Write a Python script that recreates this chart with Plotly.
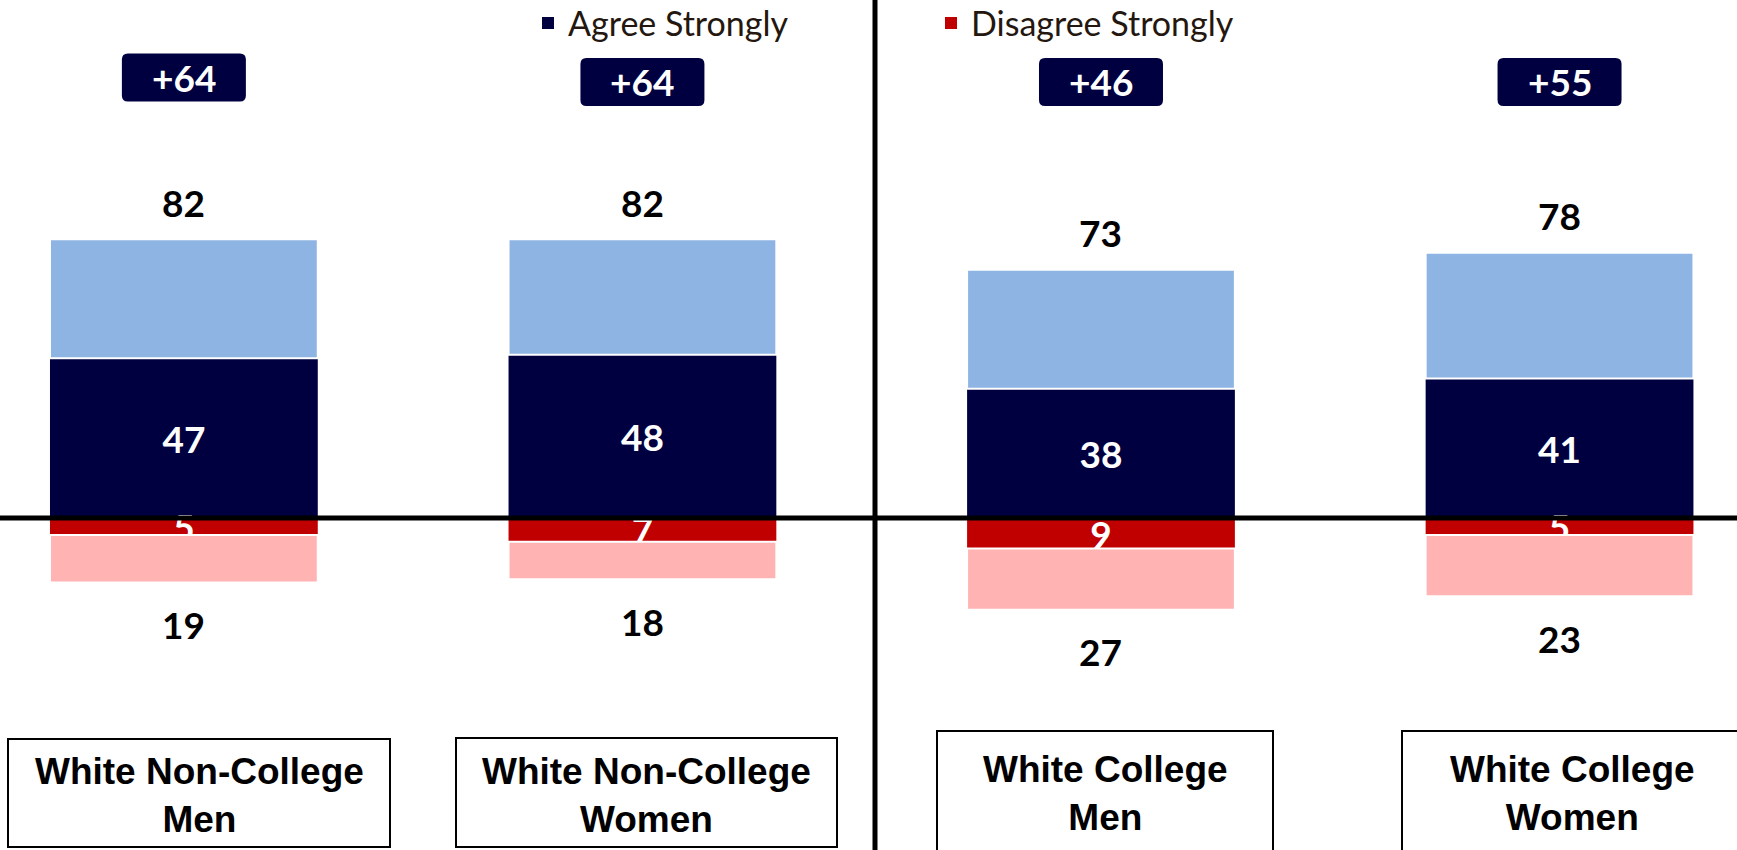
import plotly.graph_objects as go

# Survey results by group (percent)
categories = ["White Non-College Men", "White Non-College Women",
              "White College Men", "White College Women"]
agree_total = [82, 82, 73, 78]
agree_strong = [47, 48, 38, 41]
disagree_total = [19, 18, 27, 23]
disagree_strong = [5, 7, 9, 5]
net_agree = [64, 64, 46, 55]

W, H = 1737, 850
NAVY = "#000040"
LIGHT_BLUE = "#8eb4e3"
RED = "#c00000"
PINK = "#ffb3b3"
NUM_FONT = "Lato"
LABEL_FONT = "Liberation Sans, Arial, sans-serif"
BAR_W = 0.584


def px_x(p):
    return p / W


def px_y(p):
    return 1 - p / H


fig = go.Figure()

# Agree side: strong segment from zero, remainder stacked on top up to the total
fig.add_bar(x=categories, y=agree_strong, name="Agree Strongly", legend="legend",
            marker=dict(color=NAVY, line=dict(width=0)),
            width=BAR_W, text=[str(v) for v in agree_strong], textposition="inside",
            insidetextanchor="middle", constraintext="none", textangle=0,
            textfont=dict(family=NUM_FONT, size=37, color="white", weight="bold"),
            hoverinfo="skip")
fig.add_bar(x=categories, base=agree_strong,
            y=[t - s for t, s in zip(agree_total, agree_strong)],
            marker=dict(color=LIGHT_BLUE, line=dict(color="white", width=2)),
            width=BAR_W, showlegend=False, hoverinfo="skip")

# Disagree side, drawn below zero
fig.add_bar(x=categories, y=[-v for v in disagree_strong], name="Disagree Strongly", legend="legend2",
            marker=dict(color=RED, line=dict(width=0)),
            width=BAR_W, text=[str(v) for v in disagree_strong], textposition="inside",
            insidetextanchor="middle", constraintext="none", textangle=0,
            textfont=dict(family=NUM_FONT, size=37, color="white", weight="bold"),
            hoverinfo="skip")
fig.add_bar(x=categories, base=[-v for v in disagree_strong],
            y=[-(t - s) for t, s in zip(disagree_total, disagree_strong)],
            marker=dict(color=PINK, line=dict(color="white", width=2)),
            width=BAR_W, showlegend=False, hoverinfo="skip")

annotations = []
shapes = []

# Totals above / below the bars
for cat, v in zip(categories, agree_total):
    annotations.append(dict(x=cat, y=v, xref="x", yref="y", text=str(v), showarrow=False,
                            yanchor="middle", yshift=37,
                            font=dict(family=NUM_FONT, size=37, color="black", weight="bold")))
for cat, v in zip(categories, disagree_total):
    annotations.append(dict(x=cat, y=-v, xref="x", yref="y", text=str(v), showarrow=False,
                            yanchor="middle", yshift=-42,
                            font=dict(family=NUM_FONT, size=37, color="black", weight="bold")))

# Net agree badges (rounded rectangles)
bw, bh, r = 124, 48, 6
hw, hh = bw / 2, bh / 2
badge_path = (f"M {-hw + r},{-hh} L {hw - r},{-hh} Q {hw},{-hh} {hw},{-hh + r} "
              f"L {hw},{hh - r} Q {hw},{hh} {hw - r},{hh} L {-hw + r},{hh} "
              f"Q {-hw},{hh} {-hw},{hh - r} L {-hw},{-hh + r} Q {-hw},{-hh} {-hw + r},{-hh} Z")
badge_y_px = [77.5, 82, 82, 82]
for i, (v, by) in enumerate(zip(net_agree, badge_y_px)):
    shapes.append(dict(type="path", xref="x", yref="paper", xsizemode="pixel", ysizemode="pixel",
                       xanchor=i, yanchor=px_y(by), path=badge_path,
                       fillcolor=NAVY, line=dict(width=0), layer="above"))
    annotations.append(dict(x=i, y=px_y(by), xref="x", yref="paper", text=f"+{v}",
                            showarrow=False, yanchor="middle", xanchor="center",
                            font=dict(family=NUM_FONT, size=37, color="white", weight="bold")))

# Group label boxes along the bottom
label_boxes = [(8, 739, 390, 847), (456, 738, 837, 847), (937, 731, 1273, 853), (1402, 731, 1742, 853)]
label_y_px = [795, 795, 793, 793]
for cat, (x0, y0, x1, y1), ly in zip(categories, label_boxes, label_y_px):
    shapes.append(dict(type="rect", xref="paper", yref="paper",
                       x0=px_x(x0), x1=px_x(x1), y0=px_y(y1), y1=px_y(y0),
                       line=dict(color="black", width=2), fillcolor="white", layer="above"))
    head, tail = cat.rsplit(" ", 1)
    annotations.append(dict(x=px_x((x0 + x1) / 2), y=px_y(ly), xref="paper", yref="paper",
                            text=f"{head}<br>{tail}", showarrow=False,
                            xanchor="center", yanchor="middle",
                            font=dict(family=LABEL_FONT, size=37, color="black", weight="bold")))

# Zero baseline and divider between non-college and college groups
shapes.append(dict(type="line", xref="paper", yref="y", x0=0, x1=1, y0=0, y1=0,
                   line=dict(color="black", width=5), layer="above"))
shapes.append(dict(type="line", xref="paper", yref="paper", x0=px_x(875), x1=px_x(875), y0=0, y1=1,
                   line=dict(color="black", width=5), layer="above"))

legend_style = dict(orientation="h", yanchor="middle", xanchor="left", bgcolor="rgba(0,0,0,0)",
                    font=dict(family=NUM_FONT, size=34, color="#24170f"), borderwidth=0)

fig.update_layout(
    width=W, height=H,
    margin=dict(l=0, r=0, t=0, b=0, autoexpand=False),
    paper_bgcolor="white", plot_bgcolor="white",
    barmode="overlay",
    xaxis=dict(range=[-0.401, 3.387], visible=False, showgrid=False, fixedrange=True),
    yaxis=dict(range=[-97.65, 152.35], visible=False, showgrid=False, zeroline=False, fixedrange=True),
    legend=dict(x=px_x(528), y=px_y(23.5), **legend_style),
    legend2=dict(x=px_x(931), y=px_y(23.5), **legend_style),
    annotations=annotations,
    shapes=shapes,
    hovermode=False,
)

fig.write_html("out.html")
